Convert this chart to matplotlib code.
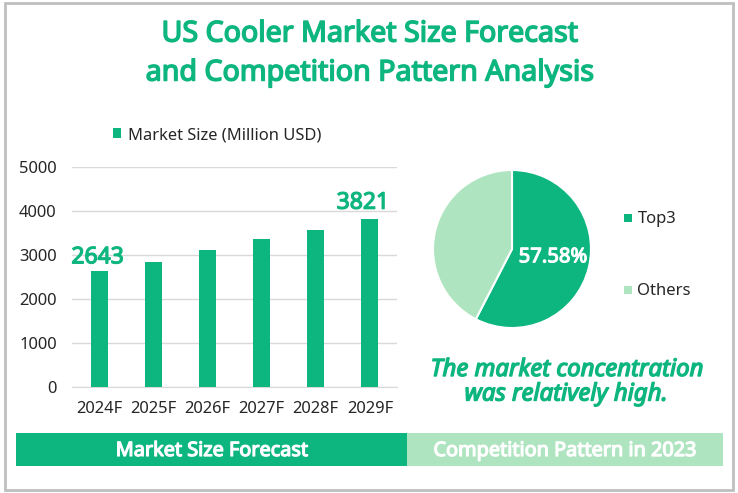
import matplotlib
matplotlib.use('Agg')
import matplotlib.pyplot as plt
import matplotlib.patheffects as pe
from matplotlib.patches import Rectangle

years = ['2024F', '2025F', '2026F', '2027F', '2028F', '2029F']
market_size = [2643, 2841, 3114, 3364, 3568, 3821]
labelled = {0: '2643', 5: '3821'}
yticks = [0, 1000, 2000, 3000, 4000, 5000]
pie_labels = ['Top3', 'Others']
pie_values = [57.58, 42.42]

GREEN = '#0DB57F'
LIGHT = '#AFE4C0'
W, H = 738, 493

plt.rcParams['font.family'] = ['Noto Sans', 'DejaVu Sans']


def axes_px(fig, left, top, right, bottom):
    return fig.add_axes([left/W, 1-bottom/H, (right-left)/W, (bottom-top)/H])


def heavy(color, lw=0.9):
    # the installed family draws regular here, so thicken the strokes
    return [pe.withStroke(linewidth=lw, foreground=color)]


fig = plt.figure(figsize=(W/100, H/100), dpi=100, facecolor='white')

# page background, frame and the two footer bands
bg = fig.add_axes([0, 0, 1, 1])
bg.set_xlim(0, W)
bg.set_ylim(H, 0)
bg.axis('off')
bg.add_patch(Rectangle((5, 3), 728, 487, fc='white', ec='#BFBFBF', lw=2))
bg.add_patch(Rectangle((16, 433), 391, 33, fc=GREEN, ec='none'))
bg.add_patch(Rectangle((407, 433), 316, 33, fc=LIGHT, ec='none'))
bg.text(212, 451, 'Market Size Forecast', color='white', fontsize=14.3,
        ha='center', va='center', path_effects=heavy('white'))
bg.text(565, 451, 'Competition Pattern in 2023', color='white', fontsize=14.3,
        ha='center', va='center', path_effects=heavy('white'))

# title
bg.text(370, 34, 'US Cooler Market Size Forecast', color=GREEN, fontsize=20.6,
        ha='center', va='center', path_effects=heavy(GREEN, 1.1))
bg.text(370, 73, 'and Competition Pattern Analysis', color=GREEN, fontsize=20.6,
        ha='center', va='center', path_effects=heavy(GREEN, 1.1))

# bars
ax = axes_px(fig, 72, 167, 397, 387)
x = range(len(years))
ax.bar(x, market_size, width=0.315, color=GREEN, zorder=3,
       label='Market Size (Million USD)')
ax.set_xlim(-0.5, 5.5)
ax.set_ylim(0, 5000)
ax.set_yticks(yticks)
ax.set_xticks(list(x))
ax.set_xticklabels(years)
ax.tick_params(length=0, labelsize=11.9, labelcolor='#262626')
ax.tick_params(axis='x', pad=10)
ax.tick_params(axis='y', pad=11)
ax.grid(axis='y', color='#D9D9D9', lw=1, zorder=0)
ax.set_axisbelow(True)
for s in ['top', 'left', 'right']:
    ax.spines[s].set_visible(False)
ax.spines['bottom'].set_color('#D9D9D9')
label_shift = {0: (-1, 1), 5: (-5, 3)}
for i, txt in labelled.items():
    ax.annotate(txt, (i, market_size[i]), xytext=label_shift[i], textcoords='offset points',
                ha='center', va='bottom', color=GREEN, fontsize=16.5,
                path_effects=heavy(GREEN, 0.9))
ax.legend(loc='center', bbox_to_anchor=(217/W, 1-135/H), bbox_transform=fig.transFigure,
          frameon=False, fontsize=11.9, handlelength=0.5, handleheight=0.5,
          handletextpad=0.4, labelcolor='#262626')

# pie
pie_ax = axes_px(fig, 433, 170, 591, 328)
pie_ax.pie(pie_values, colors=[GREEN, LIGHT], startangle=90, counterclock=False,
           radius=1.0, wedgeprops={'edgecolor': 'white', 'linewidth': 1.5})
pie_ax.set_xlim(-1, 1)
pie_ax.set_ylim(-1, 1)
pie_ax.text(0.52, -0.105, '57.58%', color='white', fontsize=14.6,
            ha='center', va='center', path_effects=heavy('white', 0.8))

for y, lab, col in zip([217, 289], pie_labels, [GREEN, LIGHT]):
    bg.add_patch(Rectangle((624, y-3.5), 8, 8, fc=col, ec='none'))
    bg.text(637.5, y+2, lab, color='#262626', fontsize=12, ha='left', va='center')

# note under the pie
bg.text(567, 370, 'The market concentration', color=GREEN, fontsize=17.2,
        style='italic', ha='center', va='center', path_effects=heavy(GREEN, 1.0))
bg.text(566, 394.5, 'was relatively high.', color=GREEN, fontsize=17.2,
        style='italic', ha='center', va='center', path_effects=heavy(GREEN, 1.0))

fig.savefig('out.png', dpi=100, facecolor='white')
